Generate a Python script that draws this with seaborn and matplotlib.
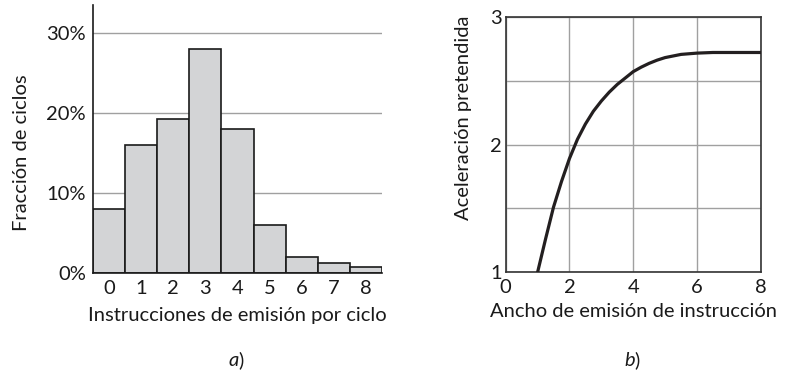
import matplotlib
matplotlib.use('Agg')
import matplotlib.pyplot as plt
import seaborn as sns
import pandas as pd

# datos
instrucciones = [0, 1, 2, 3, 4, 5, 6, 7, 8]
fraccion = [8.0, 16.0, 19.2, 28.0, 18.0, 6.0, 2.0, 1.2, 0.75]

ancho = [1.0, 1.25, 1.5, 1.75, 2.0, 2.25, 2.5, 2.75, 3.0, 3.25, 3.5, 3.75, 4.0,
         4.25, 4.5, 4.75, 5.0, 5.5, 6.0, 6.5, 7.0, 7.5, 8.0]
aceleracion = [1.00, 1.26, 1.51, 1.71, 1.89, 2.04, 2.16, 2.26, 2.34, 2.41, 2.47,
               2.52, 2.57, 2.605, 2.635, 2.66, 2.68, 2.705, 2.715, 2.72, 2.72, 2.72, 2.72]

sns.set_theme(style='white')
plt.rcParams['font.family'] = ['Lato', 'DejaVu Sans']
plt.rcParams['font.size'] = 14.5

fs = 14.5
txt_col = '#1a1a1a'
grid_col = '#a0a0a0'
fig = plt.figure(figsize=(7.86, 3.72), dpi=100)

# a) histograma
ax1 = fig.add_axes([93 / 786, 99 / 372, 289 / 786, 268 / 372])
df1 = pd.DataFrame({'inst': instrucciones, 'frac': fraccion})
sns.barplot(data=df1, x='inst', y='frac', color='#d3d4d6', width=1.0,
            edgecolor=txt_col, linewidth=1.2, saturation=1, ax=ax1, zorder=2)
ax1.set_xlim(-0.5, 8.5)
ax1.set_ylim(0, 33.5)
ax1.set_yticks([0, 10, 20, 30])
ax1.set_yticklabels(['0%', '10%', '20%', '30%'])
for v in [10, 20, 30]:
    ax1.axhline(v, color=grid_col, lw=1, zorder=1)
ax1.tick_params(length=0, labelsize=fs, colors=txt_col)
ax1.tick_params(axis='y', pad=5)
ax1.tick_params(axis='x', pad=5)
for s in ['top', 'right']:
    ax1.spines[s].set_visible(False)
for s in ['left', 'bottom']:
    ax1.spines[s].set_color(txt_col)
    ax1.spines[s].set_linewidth(1.2)
ax1.set_xlabel('Instrucciones de emisión por ciclo', fontsize=fs, color=txt_col, labelpad=7)
ax1.set_ylabel('Fracción de ciclos', fontsize=fs, color=txt_col)
ax1.yaxis.set_label_coords(-0.218, 0.448)

# b) curva de aceleracion
ax2 = fig.add_axes([505.7 / 786, 99.7 / 372, 255 / 786, 255.6 / 372])
df2 = pd.DataFrame({'ancho': ancho, 'acel': aceleracion})
sns.lineplot(data=df2, x='ancho', y='acel', color='#231f20', lw=2.3, ax=ax2, zorder=3)
ax2.set_xlim(0, 8)
ax2.set_ylim(1, 3)
ax2.set_xticks([0, 2, 4, 6, 8])
ax2.set_yticks([1, 2, 3])
ax2.set_yticks([1.5, 2.5], minor=True)
ax2.grid(True, which='both', color=grid_col, lw=1)
ax2.tick_params(which='both', length=0, labelsize=fs, colors=txt_col)
ax2.tick_params(axis='y', pad=3)
ax2.tick_params(axis='x', pad=5)
for s in ax2.spines.values():
    s.set_color('#333333')
    s.set_linewidth(1.2)
ax2.set_xlabel('Ancho de emisión de instrucción', fontsize=fs, color=txt_col, labelpad=5)
ax2.set_ylabel('Aceleración pretendida', fontsize=fs, color=txt_col)
ax2.yaxis.set_label_coords(-0.132, 0.606)

# etiquetas de panel
for xc, letra in [(237 / 786, 'a'), (633 / 786, 'b')]:
    fig.text(xc + 0.002, 1 - 360 / 372, letra, style='italic', ha='right', va='center',
             fontsize=fs, color=txt_col)
    fig.text(xc + 0.002, 1 - 360 / 372, ')', ha='left', va='center',
             fontsize=fs, color=txt_col)

fig.savefig('out.png', dpi=100)
